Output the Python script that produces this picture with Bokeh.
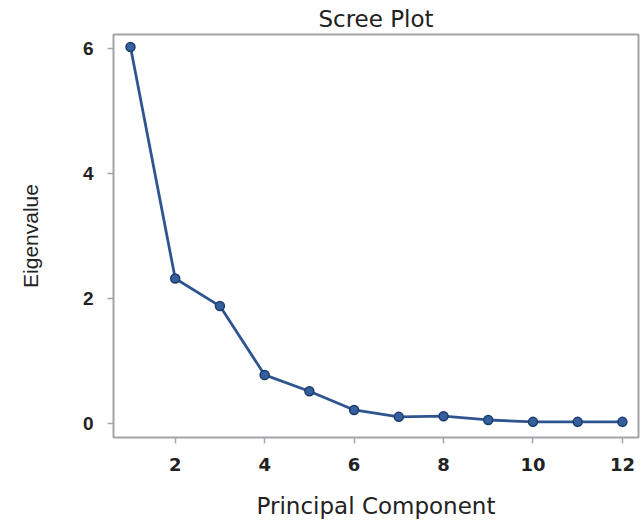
from bokeh.plotting import figure
from bokeh.models import Range1d, FixedTicker
from bokeh.embed import file_html
from bokeh.resources import INLINE

# Data
components = [1, 2, 3, 4, 5, 6, 7, 8, 9, 10, 11, 12]
eigenvalues = [6.02, 2.32, 1.88, 0.78, 0.52, 0.22, 0.11, 0.12, 0.06, 0.03, 0.03, 0.03]
x_ticks = [2, 4, 6, 8, 10, 12]
y_ticks = [0, 2, 4, 6]

FONT = "Liberation Sans"
WIDE = "DejaVu Sans"

p = figure(width=641, height=523, output_backend="svg", toolbar_location=None,
           x_range=Range1d(0.62, 12.36), y_range=Range1d(-0.22, 6.22),
           min_border_left=113, min_border_right=3, min_border_top=33,
           min_border_bottom=86, title="Scree Plot")

p.title.align = "center"
p.title.text_font = WIDE
p.title.text_font_size = "23px"
p.title.text_font_style = "normal"
p.title.text_color = "#222222"
p.title.standoff = 6

p.grid.visible = False
p.outline_line_color = "#a4a4ac"
p.outline_line_width = 2
p.background_fill_color = "white"
p.border_fill_color = "white"

p.xaxis.ticker = FixedTicker(ticks=x_ticks)
p.yaxis.ticker = FixedTicker(ticks=y_ticks)
p.xaxis.axis_label = "Principal Component"
p.yaxis.axis_label = "Eigenvalue"

for ax in (p.xaxis[0], p.yaxis[0]):
    ax.axis_line_color = None
    ax.major_tick_line_color = "#a4a4ac"
    ax.major_tick_line_width = 1.5
    ax.major_tick_in = 0
    ax.major_tick_out = 6
    ax.minor_tick_line_color = None
    ax.major_label_text_font = FONT
    ax.major_label_text_font_size = "19px"
    ax.major_label_text_font_style = "bold"
    ax.major_label_text_color = "#222222"
    ax.major_label_standoff = 14
    ax.axis_label_text_font_style = "normal"
    ax.axis_label_text_color = "#222222"

p.xaxis.major_label_text_font = WIDE
p.xaxis.major_label_text_font_size = "18px"
p.xaxis.axis_label_text_font = WIDE
p.xaxis.axis_label_text_font_size = "23px"
p.yaxis.axis_label_text_font = FONT
p.yaxis.axis_label_text_font_size = "21px"

p.xaxis.axis_label_standoff = 19
p.yaxis.axis_label_standoff = 38

p.line(components, eigenvalues, line_color="#2f5590", line_width=2.8)
p.scatter(components, eigenvalues, size=9, marker="circle",
          fill_color="#34609f", line_color="#1d3b6b", line_width=1.5)

open("out.html", "w").write(file_html(p, INLINE))
